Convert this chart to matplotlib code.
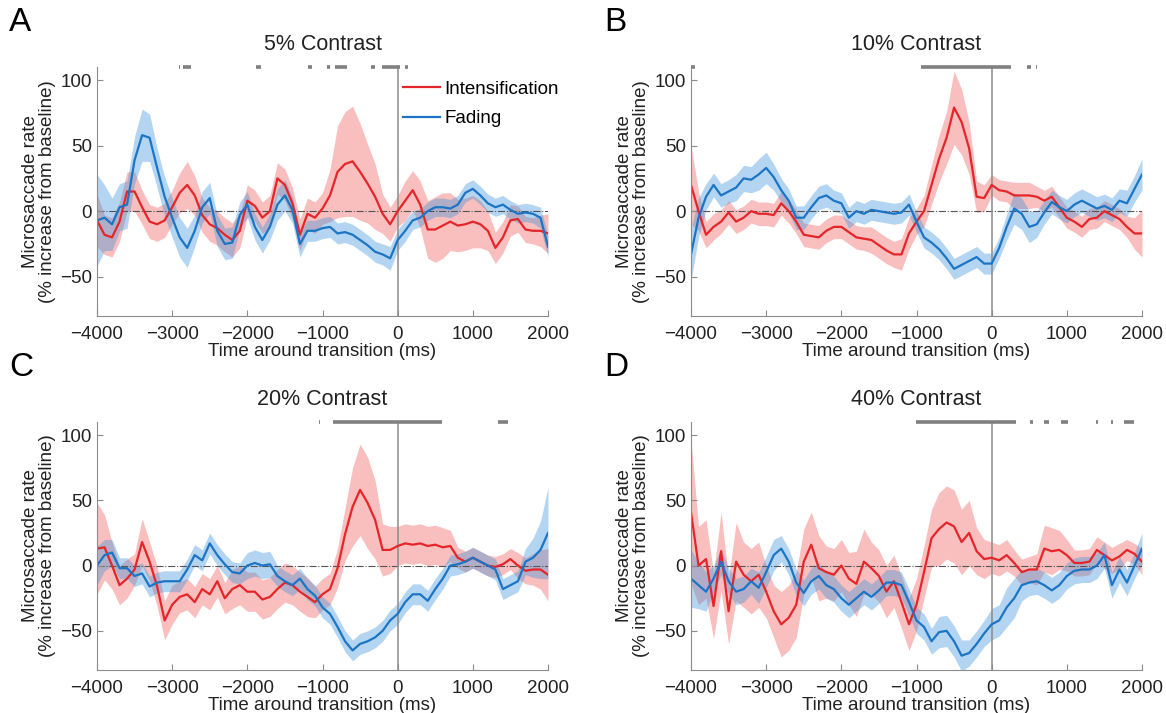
import numpy as np
import matplotlib.pyplot as plt

plt.rcParams['font.family'] = ['Liberation Sans', 'DejaVu Sans']

# time around transition (ms), one sample every 100 ms
t = np.arange(-4000, 2001, 100)

# ---- A: 5% contrast ----
a_int = [-7, -18, -20, -8, 15, 15, 3, -8, -10, -7, 3, 14, 20, 12, -3, -10, -13, -18, -22, -15,
         8, 4, -5, 0, 25, 20, 6, -18, -2, -5, 2, 12, 30, 36, 38, 30, 21, 11, -2, -10,
         0, 8, 16, 5, -14, -14, -11, -8, -11, -10, -8, -10, -15, -28, -20, -7, -6, -14, -15, -15, -17]
a_int_err = [20, 15, 15, 15, 15, 15, 13, 13, 13, 13, 13, 15, 18, 15, 13, 13, 13, 13, 13, 13,
             12, 12, 12, 12, 12, 12, 12, 12, 12, 12, 12, 20, 35, 40, 42, 37, 30, 25, 15, 13,
             12, 15, 15, 18, 22, 25, 25, 22, 20, 20, 20, 18, 15, 12, 12, 12, 10, 10, 10, 12, 15]
a_fad = [-7, -5, -10, 3, 5, 39, 58, 56, 33, 11, -5, -20, -28, -15, 3, 10, -15, -25, -24, -3,
         5, -12, -22, -12, 5, 12, 1, -25, -15, -15, -13, -12, -17, -16, -18, -22, -26, -31, -33, -36,
         -22, -15, -7, -5, 0, 3, 3, 2, 5, 14, 17, 12, 6, 3, 5, 1, -2, -1, -2, -5, -27]
a_fad_err = [35, 25, 20, 18, 18, 18, 20, 18, 15, 15, 15, 15, 15, 12, 12, 12, 12, 12, 12, 10,
             10, 10, 10, 10, 12, 12, 10, 10, 8, 8, 8, 8, 8, 8, 8, 8, 8, 8, 8, 9,
             8, 8, 7, 7, 7, 7, 7, 7, 7, 7, 7, 7, 7, 7, 7, 7, 7, 7, 7, 8, 8]
a_sig = [(-2910, -2895), (-2855, -2755), (-1885, -1820), (-1190, -1140), (-935, -905),
         (-835, -680), (-350, -305), (-205, 25), (100, 140)]

# ---- B: 10% contrast ----
b_int = [20, 0, -18, -12, -8, -1, -8, -5, 0, -2, -2, -3, 6, 0, -8, -18, -19, -20, -15, -12,
         -12, -16, -20, -21, -22, -26, -30, -33, -33, -17, -8, 0, 20, 40, 56, 79, 68, 48, 11, 10,
         20, 16, 15, 12, 12, 12, 11, 8, 11, 3, -5, -8, -12, -6, -5, 0, -3, -6, -12, -17, -17]
b_int_err = [30, 15, 10, 10, 9, 9, 9, 9, 9, 9, 9, 9, 9, 9, 9, 9, 9, 9, 9, 9,
             9, 9, 9, 9, 10, 10, 10, 10, 12, 12, 10, 12, 15, 18, 20, 28, 25, 20, 12, 10,
             8, 8, 8, 10, 10, 10, 8, 8, 8, 8, 8, 8, 8, 8, 8, 8, 8, 8, 8, 12, 18]
b_fad = [-33, -5, 11, 20, 12, 15, 18, 25, 24, 28, 33, 26, 16, 8, -5, -5, 3, 10, 12, 8,
         6, -5, 0, -2, 1, 0, -1, -2, -1, 5, -8, -20, -24, -29, -36, -44, -41, -38, -35, -40,
         -40, -28, -12, 2, -2, -12, -10, -1, 7, 3, 0, 5, 8, 5, 2, 4, 1, 8, 6, 17, 28]
b_fad_err = [20, 15, 10, 9, 9, 9, 10, 10, 10, 12, 12, 10, 9, 9, 9, 9, 9, 9, 9, 8,
             8, 8, 8, 8, 8, 8, 8, 8, 8, 8, 8, 8, 8, 8, 8, 8, 8, 8, 8, 8,
             8, 8, 10, 12, 12, 12, 10, 9, 9, 9, 9, 9, 9, 9, 9, 9, 9, 9, 10, 10, 12]
b_sig = [(-4000, -3950), (-935, 260), (470, 525), (590, 600)]

# ---- C: 20% contrast ----
c_int = [13, 14, 0, -15, -10, -3, 18, 3, -16, -42, -30, -24, -22, -28, -18, -22, -12, -25, -18, -15,
         -20, -20, -26, -24, -18, -13, -15, -20, -24, -28, -22, -18, -2, 24, 45, 58, 48, 35, 12, 12,
         15, 17, 16, 17, 15, 16, 14, 15, 6, 3, 6, 3, 0, -1, 1, 5, 0, -4, -3, -3, -7]
c_int_err = [35, 25, 18, 15, 15, 12, 18, 15, 15, 15, 15, 12, 12, 12, 12, 12, 12, 12, 15, 15,
             15, 15, 15, 15, 15, 15, 15, 15, 15, 12, 12, 12, 15, 20, 30, 35, 35, 30, 20, 18,
             15, 15, 15, 15, 15, 15, 15, 12, 8, 8, 8, 8, 8, 8, 8, 8, 10, 10, 12, 15, 20]
c_fad = [0, 8, 10, -2, -2, -8, -6, -16, -13, -12, -12, -12, -3, 8, 4, 17, 8, 1, -5, -6,
         0, 2, 0, 1, -8, -12, -15, -10, -18, -23, -32, -37, -47, -58, -65, -60, -58, -55, -50, -42,
         -37, -28, -22, -22, -27, -18, -10, 0, 1, 3, 6, 3, 0, -3, -18, -15, -12, 3, 6, 12, 25]
c_fad_err = [15, 12, 10, 8, 8, 8, 8, 8, 8, 8, 8, 8, 8, 8, 8, 8, 8, 8, 8, 8,
             10, 10, 10, 10, 8, 8, 8, 8, 8, 8, 8, 8, 8, 8, 8, 8, 8, 8, 8, 8,
             8, 8, 8, 8, 8, 8, 8, 8, 8, 8, 8, 8, 8, 8, 8, 8, 8, 10, 15, 22, 35]
c_sig = [(-1040, -1030), (-860, 590), (1335, 1470)]

# ---- D: 40% contrast ----
d_int = [41, 0, 5, -31, 11, -35, 3, -7, -12, -7, -20, -35, -45, -40, -30, 3, 16, -2, -5, -7,
         0, -10, -14, 3, -2, -8, -20, -12, -28, -45, -30, -5, 21, 28, 33, 30, 18, 25, 11, 5,
         6, 4, 8, 2, -5, -3, -3, 13, 11, 12, 8, 2, 2, 3, 12, 8, 4, 7, 12, 9, 3]
d_int_err = [55, 30, 30, 25, 30, 25, 30, 25, 25, 25, 20, 20, 25, 25, 25, 25, 25, 25, 20, 20,
             20, 20, 25, 25, 20, 20, 20, 20, 20, 20, 20, 20, 22, 28, 28, 28, 25, 25, 18, 15,
             12, 12, 12, 10, 10, 10, 12, 18, 18, 15, 12, 10, 10, 10, 10, 10, 10, 10, 8, 8, 10]
d_fad = [-10, -15, -20, -10, 3, -12, -20, -18, -12, -17, -5, 8, 13, 3, -13, -21, -12, -8, -15, -18,
         -25, -30, -25, -20, -24, -19, -13, -13, -15, -28, -42, -47, -58, -51, -50, -58, -69, -67, -60, -52,
         -45, -42, -32, -25, -15, -13, -12, -15, -19, -15, -8, -4, -3, -3, 0, 8, -15, -3, -13, 0, 13]
d_fad_err = [22, 18, 15, 10, 10, 10, 10, 10, 10, 12, 12, 12, 10, 10, 10, 10, 10, 10, 10, 10,
             10, 10, 10, 10, 10, 10, 10, 10, 10, 10, 10, 10, 10, 12, 12, 12, 12, 10, 10, 10,
             12, 12, 15, 15, 12, 10, 10, 10, 10, 10, 10, 10, 10, 10, 10, 10, 10, 10, 10, 10, 12]
d_sig = [(-1005, 320), (505, 545), (690, 760), (812, 818), (925, 1015), (1385, 1420),
         (1590, 1620), (1755, 1900)]

panels = [
    ('A', '5% Contrast', a_int, a_int_err, a_fad, a_fad_err, a_sig),
    ('B', '10% Contrast', b_int, b_int_err, b_fad, b_fad_err, b_sig),
    ('C', '20% Contrast', c_int, c_int_err, c_fad, c_fad_err, c_sig),
    ('D', '40% Contrast', d_int, d_int_err, d_fad, d_fad_err, d_sig),
]

red = '#e4262a'
blue = '#1c75c4'
axis_gray = '#8c8c8c'

fig = plt.figure(figsize=(11.66, 7.13), dpi=100)
positions = [
    [97 / 1166, 1 - 316 / 713, 451 / 1166, 249 / 713],
    [691 / 1166, 1 - 316 / 713, 451 / 1166, 249 / 713],
    [97 / 1166, 1 - 670 / 713, 451 / 1166, 248 / 713],
    [691 / 1166, 1 - 670 / 713, 451 / 1166, 248 / 713],
]
letter_xy = [(9 / 1166, 1 - 7 / 713), (604 / 1166, 1 - 7 / 713),
             (9 / 1166, 1 - 352 / 713), (604 / 1166, 1 - 352 / 713)]

for i, (letter, title, m_int, e_int, m_fad, e_fad, sig) in enumerate(panels):
    ax = fig.add_axes(positions[i])
    m_int, e_int = np.array(m_int), np.array(e_int)
    m_fad, e_fad = np.array(m_fad), np.array(e_fad)

    ax.fill_between(t, m_int - e_int, m_int + e_int, color='#ee3b3b', alpha=0.33, lw=0)
    ax.fill_between(t, m_fad - e_fad, m_fad + e_fad, color='#3a93dc', alpha=0.38, lw=0)
    ax.axhline(0, color='#555555', lw=0.8, ls='-.', zorder=1)
    ax.axvline(0, color='#8a8a8a', lw=1.1, zorder=1)
    ax.plot(t, m_int, color=red, lw=1.6, label='Intensification')
    ax.plot(t, m_fad, color=blue, lw=1.6, label='Fading')

    # significance markers along the top edge
    for s0, s1 in sig:
        ax.plot([s0, s1], [110, 110], color='#808080', lw=2.6,
                solid_capstyle='butt', clip_on=False)

    ax.set_xlim(-4000, 2000)
    ax.set_ylim(-80, 110)
    ax.set_xticks([-4000, -3000, -2000, -1000, 0, 1000, 2000])
    ax.set_yticks([-50, 0, 50, 100])
    ax.spines['top'].set_visible(False)
    ax.spines['right'].set_visible(False)
    ax.spines['left'].set_color(axis_gray)
    ax.spines['bottom'].set_color(axis_gray)
    ax.tick_params(axis='x', pad=7)
    ax.tick_params(direction='in', length=4, color=axis_gray, labelsize=13.5,
                   labelcolor='#222222')
    ax.set_xlabel('Time around transition (ms)', fontsize=13.5, labelpad=0, color='#222222')
    ax.set_ylabel('Microsaccade rate\n(% increase from baseline)', fontsize=13.5,
                  labelpad=3, color='#222222', linespacing=1.0)
    ax.set_title(title, fontsize=15.5, pad=12, color='#222222')
    fig.text(letter_xy[i][0], letter_xy[i][1], letter, fontsize=24,
             va='top', ha='left', color='black')

    if i == 0:
        ax.legend(loc='upper right', bbox_to_anchor=(1.04, 0.975), frameon=False,
                  fontsize=13.5, handlelength=2.0, handletextpad=0.2,
                  labelspacing=0.65, borderaxespad=0)

fig.savefig('out.png', dpi=100)
